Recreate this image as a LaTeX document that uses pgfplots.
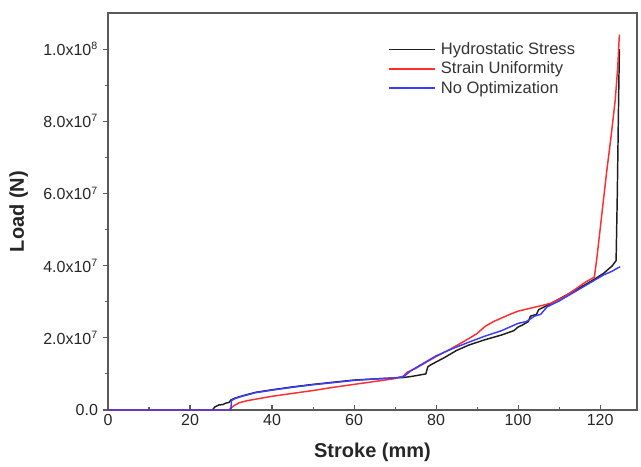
\documentclass[border=0pt]{standalone}
\usepackage{pgfplots}
\pgfplotsset{compat=1.18}
\usepackage{fontspec}
\setmainfont{Liberation Sans}

\definecolor{hsblack}{RGB}{30,30,30}
\definecolor{sured}{RGB}{255,45,45}
\definecolor{optblue}{RGB}{60,60,255}
\definecolor{axgray}{RGB}{90,90,90}

\begin{document}
\begin{tikzpicture}
\begin{axis}[
    name=main,
    scale only axis,
    width=396.75pt, height=297.75pt,
    xmin=0, xmax=129,
    ymin=0, ymax=1.1e8,
    xtick={0,20,40,60,80,100,120},
    minor x tick num=1,
    ytick={0,2e7,4e7,6e7,8e7,1e8},
    yticklabels={0.0,2.0x10\textsuperscript{7},4.0x10\textsuperscript{7},6.0x10\textsuperscript{7},8.0x10\textsuperscript{7},1.0x10\textsuperscript{8}},
    minor y tick num=1,
    scaled y ticks=false,
    xtick pos=bottom, ytick pos=left,
    xtick align=inside, ytick align=outside,
    major tick length=4pt, minor tick length=2.5pt,
    tick style={axgray, line width=0.8pt},
    axis line style={axgray, line width=0.9pt},
    /pgf/number format/assume math mode=true,
    ticklabel style={font=\fontsize{12}{14}\selectfont, text=black!85},
    xlabel={\textbf{Stroke (mm)}},
    ylabel={\textbf{Load (N)}},
    every axis x label/.style={at={(axis description cs:0.5,0)}, yshift=-32pt, anchor=center,
        font=\fontsize{15}{17}\selectfont, text=black!85},
    every axis y label/.style={at={(axis description cs:0,0.5)}, xshift=-67pt, rotate=90, anchor=center,
        font=\fontsize{15}{17}\selectfont, text=black!85},
    legend style={draw=none, fill=none, at={(0.53,0.933)}, anchor=north west,
        font=\fontsize{12.4}{15.2}\selectfont, text=black!80, row sep=0pt,
        inner sep=0pt, nodes={inner xsep=4pt}},
    legend cell align=left,
    legend image code/.code={\draw[#1, line width=1.2pt] (0pt,0pt) -- (34pt,0pt);},
    every axis plot/.append style={line width=1.1pt, line join=round},
]
\addplot[color=hsblack] coordinates {
(0,0)(25.5,0)(26,0.8e6)(27,1.4e6)(28,1.5e6)(28.7,1.9e6)(29.5,2.1e6)(30,2.8e6)(31,3.3e6)(33,4.0e6)(36,4.9e6)(40,5.6e6)(45,6.4e6)(50,7.1e6)(55,7.7e6)(60,8.3e6)(65,8.6e6)(70,8.9e6)(72,9.0e6)(74,9.3e6)(76,9.7e6)(77.5,1.0e7)(78,1.2e7)(79,1.27e7)(82,1.45e7)(85,1.65e7)(88,1.8e7)(92,1.95e7)(96,2.08e7)(99,2.2e7)(100,2.3e7)(101,2.35e7)(102.5,2.45e7)(103,2.6e7)(104.5,2.65e7)(105,2.78e7)(108,2.95e7)(112,3.2e7)(116,3.45e7)(119,3.65e7)(121,3.8e7)(123,4.0e7)(123.9,4.14e7)(124.2,6e7)(124.5,8.5e7)(124.7,1.0e8)
};
\addlegendentry{Hydrostatic Stress}
\addplot[color=sured] coordinates {
(0,0)(29.5,0)(30,0.6e6)(31,1.4e6)(32,2.0e6)(34,2.6e6)(37,3.2e6)(40,3.8e6)(45,4.6e6)(50,5.4e6)(55,6.3e6)(60,7.1e6)(65,7.9e6)(70,8.7e6)(72,9.4e6)(73,1.05e7)(75,1.15e7)(78,1.35e7)(80,1.48e7)(84,1.72e7)(88,1.98e7)(90,2.12e7)(92,2.32e7)(94,2.45e7)(96,2.55e7)(98,2.65e7)(100,2.74e7)(103,2.82e7)(106,2.9e7)(108,2.96e7)(111,3.12e7)(114,3.35e7)(116.5,3.55e7)(118.6,3.68e7)(119.2,4.2e7)(119.6,4.6e7)(120.5,5.5e7)(121.6,6.6e7)(122.7,7.6e7)(123.7,8.6e7)(124.3,9.5e7)(124.7,1.04e8)
};
\addlegendentry{Strain Uniformity}
\addplot[color=optblue] coordinates {
(0,0)(30,0)(30.1,2.6e6)(31,3.2e6)(33,3.9e6)(36,4.8e6)(40,5.5e6)(45,6.3e6)(50,7.0e6)(55,7.6e6)(60,8.2e6)(65,8.6e6)(70,8.9e6)(72,9.2e6)(74,1.1e7)(77,1.3e7)(80,1.5e7)(84,1.7e7)(88,1.88e7)(92,2.05e7)(96,2.2e7)(98,2.3e7)(100,2.4e7)(102,2.45e7)(104,2.6e7)(105.5,2.65e7)(107,2.85e7)(110,3.02e7)(113,3.22e7)(116,3.42e7)(119,3.62e7)(121,3.75e7)(123,3.85e7)(124.2,3.93e7)(124.9,3.97e7)
};
\addlegendentry{No Optimization}
\end{axis}
% margins of the reference figure around the axis box
\path ([shift={(-81pt,-39.75pt)}]main.south west) ([shift={(3pt,9.75pt)}]main.north east);
\end{tikzpicture}
\end{document}
